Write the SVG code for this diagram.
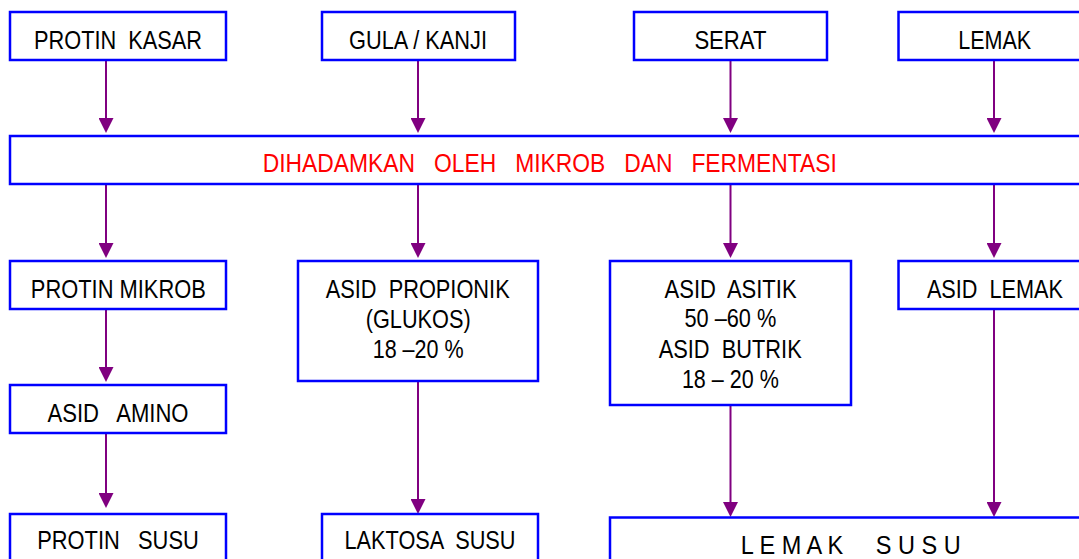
<svg xmlns="http://www.w3.org/2000/svg" width="1079" height="559" viewBox="0 0 1079 559">
<style>
.box{fill:#fff;stroke:#0000ff;stroke-width:2.5}
.t{font-family:"Liberation Sans",Arial,sans-serif;font-size:26px;fill:#000;text-anchor:middle}
.r{fill:#ff0000}
.c{stroke:#800080;stroke-width:2;fill:none}
</style>
<defs>
<marker id="ah" viewBox="0 0 15 15" refX="2" refY="7.5" markerWidth="15" markerHeight="15" markerUnits="userSpaceOnUse" orient="auto">
<path d="M0,0 L15,7.5 L0,15 z" fill="#800080"/>
</marker>
</defs>
<rect width="1079" height="559" fill="#fff"/>
<g id="connectors">
<line class="c" x1="106" y1="60" x2="106" y2="120" marker-end="url(#ah)"/>
<line class="c" x1="106" y1="184" x2="106" y2="245" marker-end="url(#ah)"/>
<line class="c" x1="106" y1="309" x2="106" y2="369" marker-end="url(#ah)"/>
<line class="c" x1="106" y1="433" x2="106" y2="495" marker-end="url(#ah)"/>
<line class="c" x1="418" y1="60" x2="418" y2="120" marker-end="url(#ah)"/>
<line class="c" x1="418" y1="184" x2="418" y2="245" marker-end="url(#ah)"/>
<line class="c" x1="418" y1="381" x2="418" y2="501" marker-end="url(#ah)"/>
<line class="c" x1="730.5" y1="60" x2="730.5" y2="120" marker-end="url(#ah)"/>
<line class="c" x1="730.5" y1="184" x2="730.5" y2="245" marker-end="url(#ah)"/>
<line class="c" x1="730.5" y1="405" x2="730.5" y2="504" marker-end="url(#ah)"/>
<line class="c" x1="994" y1="60" x2="994" y2="120" marker-end="url(#ah)"/>
<line class="c" x1="994" y1="184" x2="994" y2="245" marker-end="url(#ah)"/>
<line class="c" x1="994" y1="309" x2="994" y2="504" marker-end="url(#ah)"/>
</g>
<g id="protin-kasar"><rect class="box" x="10" y="12" width="216" height="48"/><text class="t" x="118" y="49" textLength="168" lengthAdjust="spacingAndGlyphs" xml:space="preserve">PROTIN  KASAR</text></g>
<g id="gula-kanji"><rect class="box" x="322" y="12" width="193" height="48"/><text class="t" x="418" y="49" textLength="138" lengthAdjust="spacingAndGlyphs">GULA / KANJI</text></g>
<g id="serat"><rect class="box" x="634" y="12" width="193" height="48"/><text class="t" x="730.4" y="49" textLength="72" lengthAdjust="spacingAndGlyphs">SERAT</text></g>
<g id="lemak"><rect class="box" x="898.5" y="12" width="200" height="48"/><text class="t" x="994.7" y="49" textLength="73" lengthAdjust="spacingAndGlyphs">LEMAK</text></g>
<g id="dihadamkan"><rect class="box" x="10" y="136" width="1100" height="48"/><text class="t r" x="549.8" y="172" textLength="574" lengthAdjust="spacingAndGlyphs" xml:space="preserve">DIHADAMKAN   OLEH   MIKROB   DAN   FERMENTASI</text></g>
<g id="protin-mikrob"><rect class="box" x="10" y="261" width="216" height="48"/><text class="t" x="118.3" y="297.7" textLength="175" lengthAdjust="spacingAndGlyphs">PROTIN MIKROB</text></g>
<g id="asid-propionik"><rect class="box" x="298" y="261" width="240" height="120"/>
<text class="t" x="417.7" y="297.7" textLength="184" lengthAdjust="spacingAndGlyphs" xml:space="preserve">ASID  PROPIONIK</text>
<text class="t" x="418.2" y="327.5" textLength="105" lengthAdjust="spacingAndGlyphs">(GLUKOS)</text>
<text class="t" x="418.2" y="357.7" textLength="91" lengthAdjust="spacingAndGlyphs">18 –20 %</text></g>
<g id="asid-asitik"><rect class="box" x="610" y="261" width="241" height="144"/>
<text class="t" x="730.6" y="297.7" textLength="132" lengthAdjust="spacingAndGlyphs" xml:space="preserve">ASID  ASITIK</text>
<text class="t" x="730.4" y="327" textLength="92" lengthAdjust="spacingAndGlyphs">50 –60 %</text>
<text class="t" x="730.2" y="357.7" textLength="143" lengthAdjust="spacingAndGlyphs" xml:space="preserve">ASID  BUTRIK</text>
<text class="t" x="730.4" y="388.3" textLength="97" lengthAdjust="spacingAndGlyphs">18 – 20 %</text></g>
<g id="asid-lemak"><rect class="box" x="898.5" y="261" width="200" height="48"/><text class="t" x="994.9" y="297.7" textLength="136" lengthAdjust="spacingAndGlyphs" xml:space="preserve">ASID  LEMAK</text></g>
<g id="asid-amino"><rect class="box" x="10" y="385" width="216" height="48"/><text class="t" x="118" y="421.7" textLength="141" lengthAdjust="spacingAndGlyphs" xml:space="preserve">ASID   AMINO</text></g>
<g id="protin-susu"><rect class="box" x="10" y="514" width="216" height="60"/><text class="t" x="118" y="549" textLength="161.5" lengthAdjust="spacingAndGlyphs" xml:space="preserve">PROTIN   SUSU</text></g>
<g id="laktosa-susu"><rect class="box" x="322" y="514" width="216" height="60"/><text class="t" x="430" y="549" textLength="171" lengthAdjust="spacingAndGlyphs" xml:space="preserve">LAKTOSA  SUSU</text></g>
<g id="lemak-susu"><rect class="box" x="610" y="517.5" width="500" height="60"/><text class="t" x="850.8" y="554" textLength="220" lengthAdjust="spacingAndGlyphs" xml:space="preserve">L E M A K     S U S U</text></g>
</svg>
